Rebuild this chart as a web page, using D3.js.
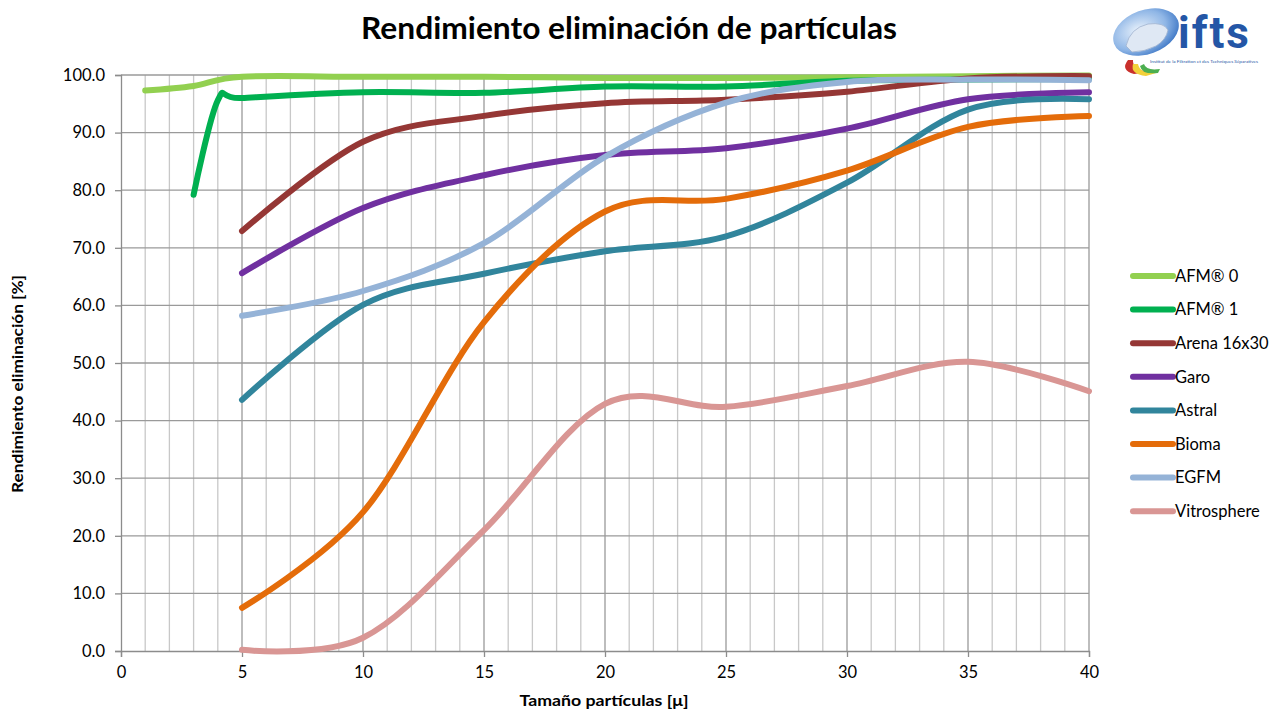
<!DOCTYPE html>
<html>
<head>
<meta charset="utf-8">
<script src="https://cdn.jsdelivr.net/npm/d3@7"></script>
<style>
  body { margin: 0; background: #fff; }
  svg { display: block; font-family: Lato, "Open Sans", sans-serif; }
</style>
</head>
<body>
<svg id="chart" width="1270" height="711"></svg>
<script>
// particle sizes (µ) shared by most series
const sizes = [5, 10, 15, 20, 25, 30, 35, 40]

const afm0X = [1, 3, 5, 10, 15, 20, 25, 30, 35, 40]
const afm0 = [97.3, 98.1, 99.7, 99.7, 99.7, 99.5, 99.5, 99.6, 99.8, 99.9]
const afm1X = [3, 4, 5, 10, 15, 20, 25, 30, 35, 40]
const afm1 = [79.2, 95.6, 96.0, 97.0, 96.9, 98.0, 98.0, 99.0, 99.2, 99.3]
const arena = [72.9, 88.4, 92.9, 95.1, 95.7, 97.1, 99.4, 99.8]
const garo = [65.6, 76.9, 82.6, 86.1, 87.3, 90.7, 95.8, 97.0]
const astral = [43.6, 60.1, 65.5, 69.4, 72.0, 81.3, 94.0, 95.8]
const bioma = [7.5, 24.1, 57.1, 76.3, 78.5, 83.4, 91.0, 92.9]
const egfm = [58.2, 62.5, 70.8, 85.8, 95.2, 98.8, 99.2, 99.1]
const vitro = [0.2, 2.3, 21.0, 42.9, 42.4, 46.0, 50.2, 45.1]

const seriesNames = ['AFM® 0', 'AFM® 1', 'Arena 16x30', 'Garo', 'Astral', 'Bioma', 'EGFM', 'Vitrosphere']
const colors = ['#92D050', '#00B050', '#953735', '#7030A0', '#31859C', '#E46C0A', '#95B3D7', '#D99694']

const xTicks = [0, 5, 10, 15, 20, 25, 30, 35, 40]
const yTicks = [0, 10, 20, 30, 40, 50, 60, 70, 80, 90, 100]

const seriesX = [afm0X, afm1X, sizes, sizes, sizes, sizes, sizes, sizes]
const seriesY = [afm0, afm1, arena, garo, astral, bioma, egfm, vitro]

const svg = d3.select('#chart')

const x = d3.scaleLinear().domain([0, 40]).range([121, 1089])
const y = d3.scaleLinear().domain([0, 100]).range([651, 75])

// grid
const grid = svg.append('g')
grid.selectAll('line.minor')
    .data(d3.range(1, 41).filter(d => d % 5 !== 0))
    .join('line')
    .attr('x1', d => x(d)).attr('x2', d => x(d))
    .attr('y1', y(0)).attr('y2', y(100))
    .attr('stroke', '#c8c8c8').attr('stroke-width', 1.3)
grid.selectAll('line.major')
    .data(xTicks.slice(1))
    .join('line')
    .attr('x1', d => x(d)).attr('x2', d => x(d))
    .attr('y1', y(0)).attr('y2', y(100))
    .attr('stroke', '#9a9a9a').attr('stroke-width', 1.3)
grid.selectAll('line.h')
    .data(yTicks.slice(1))
    .join('line')
    .attr('x1', x(0)).attr('x2', x(40))
    .attr('y1', d => y(d)).attr('y2', d => y(d))
    .attr('stroke', '#9a9a9a').attr('stroke-width', 1.3)

// axes
const yAxis = svg.append('g')
    .attr('transform', `translate(${x(0)},0)`)
    .call(d3.axisLeft(y).tickValues(yTicks).tickSize(6).tickPadding(10).tickFormat(d3.format('.1f')))
const xAxis = svg.append('g')
    .attr('transform', `translate(0,${y(0)})`)
    .call(d3.axisBottom(x).tickValues(xTicks).tickSize(6).tickPadding(9).tickFormat(d3.format('d')))

;[yAxis, xAxis].forEach(a => {
    a.select('.domain').attr('stroke', '#8c8c8c').attr('stroke-width', 1.3)
    a.selectAll('.tick line').attr('stroke', '#8c8c8c').attr('stroke-width', 1.3)
    a.selectAll('.tick text').attr('font-size', 16.5).attr('fill', '#000')
        .attr('font-family', 'Lato, sans-serif')
})

// lines
const line = d3.line()
    .x(d => x(d[0]))
    .y(d => y(d[1]))
    .curve(d3.curveCardinal.tension(0))

svg.append('g')
    .selectAll('path')
    .data(seriesY.map((vals, i) => vals.map((v, j) => [seriesX[i][j], v])))
    .join('path')
    .attr('d', line)
    .attr('fill', 'none')
    .attr('stroke', (d, i) => colors[i])
    .attr('stroke-width', 6)
    .attr('stroke-linecap', 'round')
    .attr('stroke-linejoin', 'round')

// legend
const legend = svg.append('g')
    .selectAll('g')
    .data(seriesNames)
    .join('g')
    .attr('transform', (d, i) => `translate(1133,${276 + i * 33.6})`)
legend.append('line')
    .attr('x1', 0).attr('x2', 40)
    .attr('stroke', (d, i) => colors[i])
    .attr('stroke-width', 6)
    .attr('stroke-linecap', 'round')
legend.append('text')
    .attr('x', 42).attr('dy', '0.35em')
    .attr('font-size', 16.5)
    .text(d => d)

// titles
svg.append('text')
    .attr('x', 629).attr('y', 39)
    .attr('text-anchor', 'middle')
    .attr('font-size', 30).attr('font-weight', 'bold')
    .attr('textLength', 536).attr('lengthAdjust', 'spacingAndGlyphs')
    .text('Rendimiento eliminación de partículas')

svg.append('text')
    .attr('x', 604).attr('y', 706)
    .attr('text-anchor', 'middle')
    .attr('font-size', 16).attr('font-weight', 'bold')
    .attr('textLength', 169).attr('lengthAdjust', 'spacingAndGlyphs')
    .text('Tamaño partículas [μ]')

svg.append('text')
    .attr('transform', 'translate(23,384) rotate(-90)')
    .attr('text-anchor', 'middle')
    .attr('font-size', 16).attr('font-weight', 'bold')
    .attr('textLength', 218).attr('lengthAdjust', 'spacingAndGlyphs')
    .text('Rendimiento eliminación [%]')

// logo
const logo = svg.append('g')
const grad = svg.append('defs').append('radialGradient')
    .attr('id', 'lg').attr('cx', '40%').attr('cy', '40%').attr('r', '70%')
grad.append('stop').attr('offset', '0%').attr('stop-color', '#e8f1fb')
grad.append('stop').attr('offset', '60%').attr('stop-color', '#8fb6e6')
grad.append('stop').attr('offset', '100%').attr('stop-color', '#2f6cc0')
logo.append('path')
    .attr('d', 'M1128,60 Q1120,70 1134,74 L1150,72 Q1132,70 1133,60 Z')
    .attr('fill', '#c9302c')
logo.append('path')
    .attr('d', 'M1133,64 Q1130,74 1146,76 L1156,73 Q1140,74 1138,64 Z')
    .attr('fill', '#f2d13a')
logo.append('path')
    .attr('d', 'M1140,66 Q1142,75 1158,73 L1160,69 Q1146,71 1144,64 Z')
    .attr('fill', '#4caf50')
logo.append('ellipse')
    .attr('cx', 1146).attr('cy', 32).attr('rx', 34).attr('ry', 22)
    .attr('transform', 'rotate(-20,1146,32)')
    .attr('fill', 'url(#lg)')
logo.append('path')
    .attr('d', 'M1126,46 Q1130,28 1148,24 Q1164,22 1168,30 Q1166,40 1156,46 Q1144,52 1132,52 Z')
    .attr('fill', '#dfe8f4').attr('stroke', '#9fb3cf').attr('stroke-width', 0.8)
logo.append('text')
    .attr('x', 1178).attr('y', 48)
    .attr('font-size', 44).attr('font-weight', 'bold')
    .attr('font-family', 'Roboto, sans-serif')
    .attr('fill', '#2456a6')
    .attr('letter-spacing', 2)
    .text('ifts')
logo.append('text')
    .attr('x', 1150).attr('y', 63)
    .attr('font-size', 4.2)
    .attr('fill', '#2456a6')
    .attr('textLength', 108).attr('lengthAdjust', 'spacingAndGlyphs')
    .text('Institut de la Filtration et des Techniques Séparatives')
</script>
</body>
</html>
